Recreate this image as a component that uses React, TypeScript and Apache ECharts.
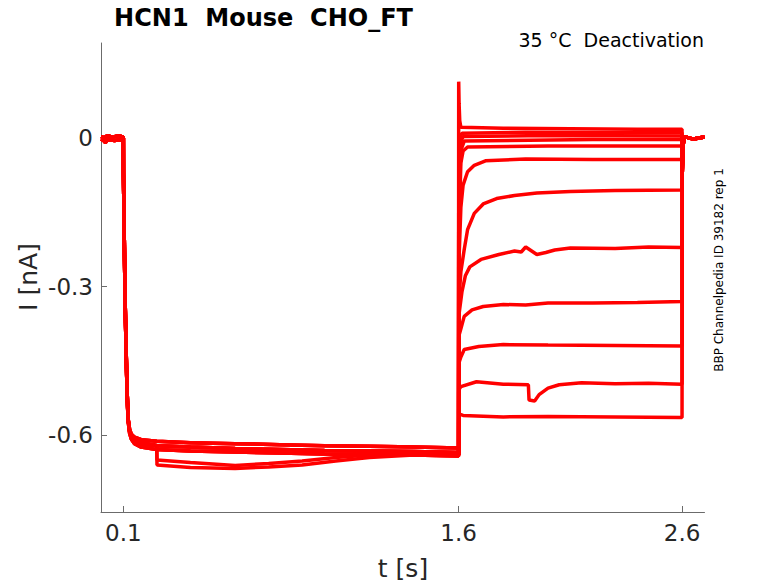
import React, { useEffect, useRef } from "react";
import * as echarts from "echarts";

const X_TICKS = [0.1, 1.6, 2.6];
const Y_TICKS = [0, -0.3, -0.6];

// baseline before the step (t, I)
const preA: [number, number][] = [[0, 0.003], [0.015, 0.001], [0.03, 0.005], [0.05, 0.002], [0.08, 0.005], [0.0995, 0.002]];
const preB: [number, number][] = [[0, -0.002], [0.01, -0.004], [0.02, -0.009], [0.03, -0.003], [0.06, -0.005], [0.0995, -0.003]];

// activation phase (0.1 s - 1.6 s)
const actT = [0.1, 0.1005, 0.104, 0.108, 0.112, 0.116, 0.121, 0.128, 0.136, 0.15, 0.18, 0.25, 0.4, 0.6, 0.8, 1.0, 1.2, 1.4, 1.5995];
const actA = [0, -0.07, -0.2, -0.33, -0.42, -0.5, -0.565, -0.588, -0.598, -0.604, -0.609, -0.612, -0.615, -0.617, -0.619, -0.621, -0.622, -0.624, -0.626];
const actB = [0, -0.07, -0.2, -0.33, -0.42, -0.5, -0.567, -0.592, -0.603, -0.611, -0.617, -0.621, -0.624, -0.627, -0.629, -0.631, -0.632, -0.633, -0.635];
const actC = [0, -0.07, -0.2, -0.33, -0.42, -0.5, -0.57, -0.596, -0.608, -0.617, -0.624, -0.629, -0.632, -0.634, -0.636, -0.638, -0.639, -0.64, -0.642];
const lowT = [0.1, 0.1005, 0.104, 0.108, 0.112, 0.116, 0.121, 0.128, 0.136, 0.15, 0.18, 0.2495, 0.2505, 0.4, 0.6, 0.75, 0.9, 1.05, 1.2, 1.4, 1.5995];
const actLow1 = [0, -0.07, -0.2, -0.33, -0.42, -0.5, -0.567, -0.592, -0.603, -0.611, -0.617, -0.622, -0.66, -0.665, -0.667, -0.664, -0.66, -0.652, -0.645, -0.64, -0.638];
const actLow2 = [0, -0.07, -0.2, -0.33, -0.42, -0.5, -0.566, -0.59, -0.6, -0.608, -0.614, -0.62, -0.65, -0.655, -0.661, -0.657, -0.652, -0.645, -0.64, -0.637, -0.636];

// deactivation tails (1.6 s - 2.6 s)
const tail1: [number, number][] = [[1.6, -0.626], [1.6003, 0.114], [1.602, 0.07], [1.605, 0.035], [1.61, 0.022], [1.8, 0.02], [2.1, 0.019], [2.4, 0.018], [2.5995, 0.018]];
const tail2: [number, number][] = [[1.6, -0.63], [1.6005, -0.06], [1.606, 0.0], [1.615, 0.01], [1.9, 0.012], [2.3, 0.011], [2.5995, 0.011]];
const tail3: [number, number][] = [[1.6, -0.632], [1.6005, -0.1], [1.608, -0.01], [1.62, 0.003], [2.0, 0.005], [2.5995, 0.004]];
const tail4: [number, number][] = [[1.6, -0.635], [1.6005, -0.14], [1.61, -0.025], [1.625, -0.006], [2.2, -0.003], [2.5995, -0.003]];
const tail5: [number, number][] = [[1.6, -0.635], [1.6005, -0.2], [1.61, -0.05], [1.62, -0.026], [1.64, -0.018], [2.0, -0.016], [2.5995, -0.016]];
const tail6: [number, number][] = [[1.6, -0.64], [1.6005, -0.26], [1.61, -0.14], [1.62, -0.095], [1.64, -0.068], [1.67, -0.055], [1.72, -0.046], [1.9, -0.042], [2.2, -0.043], [2.5995, -0.043]];
const tail7: [number, number][] = [[1.6, -0.64], [1.6005, -0.33], [1.61, -0.27], [1.625, -0.225], [1.64, -0.185], [1.67, -0.152], [1.71, -0.133], [1.77, -0.122], [1.85, -0.116], [1.95, -0.111], [2.1, -0.108], [2.3, -0.106], [2.5995, -0.105]];
const tail8: [number, number][] = [[1.6, -0.64], [1.6005, -0.36], [1.615, -0.31], [1.63, -0.278], [1.65, -0.26], [1.7, -0.245], [1.78, -0.235], [1.85, -0.228], [1.88, -0.23], [1.9, -0.22], [1.92, -0.226], [1.95, -0.235], [1.99, -0.231], [2.03, -0.226], [2.1, -0.222], [2.3, -0.223], [2.45, -0.22], [2.5995, -0.221]];
const tail9: [number, number][] = [[1.6, -0.64], [1.6005, -0.4], [1.61, -0.385], [1.625, -0.36], [1.66, -0.347], [1.71, -0.34], [1.8, -0.336], [1.9, -0.337], [2.0, -0.333], [2.2, -0.333], [2.4, -0.332], [2.5995, -0.33]];
const tail10: [number, number][] = [[1.6, -0.64], [1.6005, -0.455], [1.61, -0.442], [1.625, -0.427], [1.69, -0.421], [1.8, -0.417], [2.0, -0.418], [2.3, -0.419], [2.5995, -0.42]];
const tail11: [number, number][] = [[1.6, -0.64], [1.6005, -0.508], [1.61, -0.502], [1.68, -0.492], [1.8, -0.497], [1.912, -0.498], [1.915, -0.529], [1.94, -0.531], [1.96, -0.518], [2.0, -0.505], [2.05, -0.498], [2.15, -0.494], [2.3, -0.496], [2.45, -0.495], [2.5995, -0.497]];
const tail12: [number, number][] = [[1.6, -0.64], [1.6005, -0.557], [1.62, -0.56], [1.8, -0.563], [2.0, -0.562], [2.3, -0.563], [2.5995, -0.564]];

// return to holding (2.6 s - 2.7 s)
const endA: [number, number][] = [[2.6005, -0.07], [2.604, -0.015], [2.61, 0.003], [2.65, -0.002], [2.7, 0.002]];

const ACT: Record<string, [number[], number[]]> = {
  A: [actT, actA],
  B: [actT, actB],
  C: [actT, actC],
  L1: [lowT, actLow1],
  L2: [lowT, actLow2],
};

const SWEEPS: { pre: [number, number][]; act: string; tail: [number, number][] }[] = [
  { pre: preA, act: "A", tail: tail1 },
  { pre: preB, act: "B", tail: tail2 },
  { pre: preA, act: "C", tail: tail3 },
  { pre: preB, act: "L2", tail: tail4 },
  { pre: preA, act: "A", tail: tail5 },
  { pre: preB, act: "B", tail: tail6 },
  { pre: preA, act: "C", tail: tail7 },
  { pre: preB, act: "A", tail: tail8 },
  { pre: preA, act: "B", tail: tail9 },
  { pre: preB, act: "C", tail: tail10 },
  { pre: preA, act: "L1", tail: tail11 },
  { pre: preB, act: "B", tail: tail12 },
];

const FONT = "DejaVu Sans";

export default function App() {
  const ref = useRef<HTMLDivElement>(null);
  useEffect(() => {
    if (!ref.current) return;
    const chart = echarts.init(ref.current, null, { renderer: "svg" });
    const series = SWEEPS.map((s, i) => {
      const [t, v] = ACT[s.act];
      const act = t.map((x, k) => [x, v[k]]);
      return {
        type: "line",
        name: "sweep " + (i + 1),
        showSymbol: false,
        symbol: "none",
        silent: true,
        lineStyle: { color: "#ff0000", width: 3.5 },
        data: [...s.pre, ...act, ...s.tail, ...endA],
      };
    });
    chart.setOption({
      animation: false,
      grid: { left: 101, right: 73.5, top: 43, bottom: 71 },
      xAxis: {
        type: "value",
        min: 0,
        max: 2.7,
        axisLine: { show: true, onZero: false, lineStyle: { color: "#6b6b6b", width: 1 } },
        axisTick: { show: true, inside: true, length: 6, customValues: X_TICKS, lineStyle: { color: "#6b6b6b" } },
        axisLabel: {
          customValues: X_TICKS,
          fontSize: 23,
          color: "#262626",
          fontFamily: FONT,
          margin: 9,
          formatter: (v: number) => v.toFixed(1),
        },
        splitLine: { show: false },
      },
      yAxis: {
        type: "value",
        min: -0.755,
        max: 0.192,
        axisLine: { show: true, onZero: false, lineStyle: { color: "#6b6b6b", width: 1 } },
        axisTick: { show: true, inside: true, length: 6, customValues: Y_TICKS, lineStyle: { color: "#6b6b6b" } },
        axisLabel: {
          customValues: Y_TICKS,
          fontSize: 23,
          color: "#262626",
          fontFamily: FONT,
          margin: 8,
          formatter: (v: number) => String(v),
        },
        splitLine: { show: false },
      },
      graphic: [
        {
          type: "text",
          x: 263.5,
          y: 18,
          style: { text: "HCN1  Mouse  CHO_FT", font: `bold 24px ${FONT}`, fill: "#000", align: "center", verticalAlign: "middle" },
        },
        {
          type: "text",
          x: 704,
          y: 40,
          style: { text: "35 °C  Deactivation", font: `19px ${FONT}`, fill: "#000", align: "right", verticalAlign: "middle" },
        },
        {
          type: "text",
          x: 719,
          y: 270,
          rotation: Math.PI / 2,
          style: { text: "BBP Channelpedia ID 39182 rep 1", font: `12px ${FONT}`, fill: "#000", align: "center", verticalAlign: "middle" },
        },
        {
          type: "text",
          x: 28.5,
          y: 277,
          rotation: Math.PI / 2,
          style: { text: "I [nA]", font: `25px ${FONT}`, fill: "#262626", align: "center", verticalAlign: "middle" },
        },
        {
          type: "text",
          x: 403,
          y: 568,
          style: { text: "t [s]", font: `25px ${FONT}`, fill: "#262626", align: "center", verticalAlign: "middle" },
        },
      ],
      series,
    });
    return () => chart.dispose();
  }, []);
  return <div ref={ref} style={{ position: "fixed", left: 0, top: 0, width: 778, height: 583, background: "#fff" }} />;
}
